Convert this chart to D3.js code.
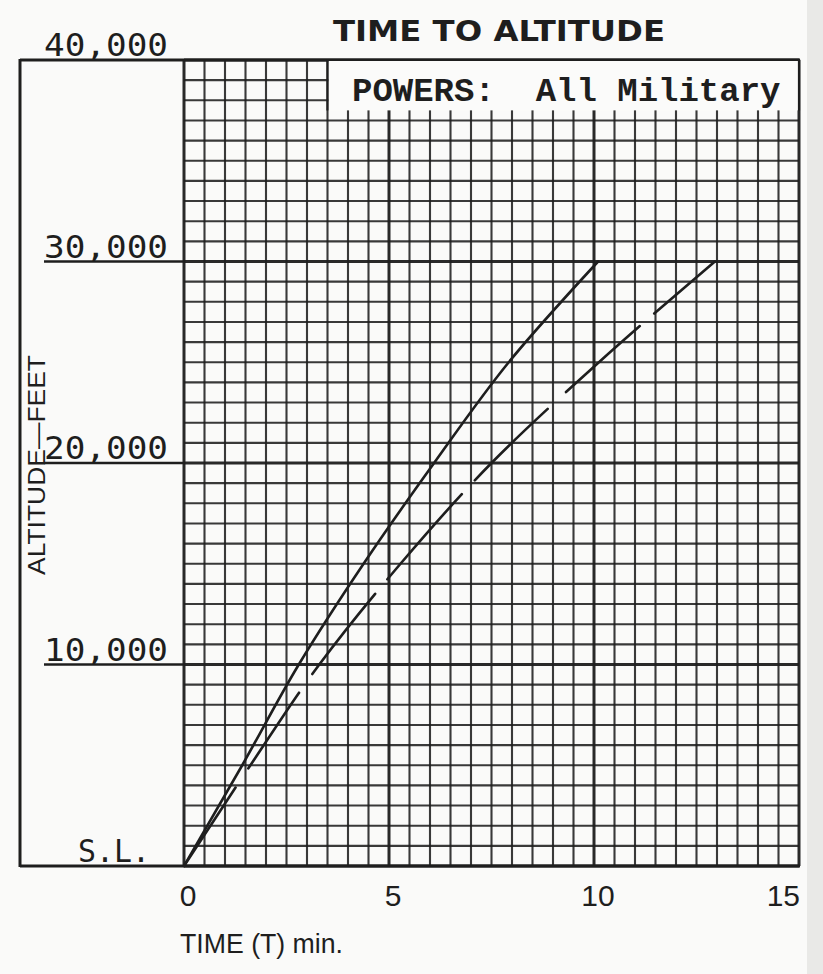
<!DOCTYPE html>
<html>
<head>
<meta charset="utf-8">
<script src="https://cdn.jsdelivr.net/npm/d3@7"></script>
<style>
  html, body { margin: 0; padding: 0; background: #fafaf9; }
  svg { display: block; }
</style>
</head>
<body>
<script>
// Time-to-altitude chart, military power, two configurations.
const altitudes   = [0, 5000, 10000, 15000, 20000, 25000, 30000];
const solidTimes  = [0, 1.42, 2.8, 4.38, 6.1, 7.92, 10.1];
const dashedTimes = [0, 1.62, 3.3, 5.28, 7.5, 10.12, 12.95];

const xTicks = [0, 5, 10, 15];
const xTickLabels = ["0", "5", "10", "15"];
const yTicks = [0, 10000, 20000, 30000, 40000];
const yTickLabels = ["S.L.", "10,000", "20,000", "30,000", "40,000"];

const titleText = "TIME TO ALTITUDE";
const boxText = "POWERS:  All Military";
const xTitle = "TIME (T) min.";
const yTitle = "ALTITUDE\u2014FEET";

const W = 823, H = 974;
const ink = "#1e1e1e";

const svg = d3.select("body").append("svg")
  .attr("width", W).attr("height", H);

svg.append("rect").attr("width", W).attr("height", H).attr("fill", "#fafaf9");
svg.append("rect").attr("x", 807).attr("y", 0).attr("width", W - 807).attr("height", H)
  .attr("fill", "#e9e9e7");

const x = d3.scaleLinear().domain([0, 15]).range([184, 799]);
const y = d3.scaleLinear().domain([0, 40000]).range([866, 60]);

// Grid: half-minute columns and 1000 ft rows, heavier every 5 min / 10,000 ft
const grid = svg.append("g");
const vLines = d3.range(0, 15.001, 0.5);
const hLines = d3.range(0, 40001, 1000);

grid.selectAll("line.v").data(vLines).join("line")
  .attr("x1", d => x(d)).attr("x2", d => x(d))
  .attr("y1", y(0)).attr("y2", y(40000))
  .attr("stroke", ink)
  .attr("stroke-opacity", d => d % 5 === 0 ? 0.95 : 0.88)
  .attr("stroke-width", d => d % 5 === 0 ? 3 : 2.1);

grid.selectAll("line.h").data(hLines).join("line")
  .attr("x1", x(0)).attr("x2", x(15))
  .attr("y1", d => y(d)).attr("y2", d => y(d))
  .attr("stroke", ink)
  .attr("stroke-opacity", d => d % 10000 === 0 ? 0.95 : 0.88)
  .attr("stroke-width", d => d % 10000 === 0 ? 3 : 2.1);

// Outer frame: left rule, full-width top and bottom rules, label underlines
svg.append("line")
  .attr("x1", 20).attr("x2", 20).attr("y1", y(40000) - 1).attr("y2", y(0) + 1)
  .attr("stroke", ink).attr("stroke-width", 3);
[0, 40000].forEach(v => {
  svg.append("line")
    .attr("x1", 20).attr("x2", x(15) + 1).attr("y1", y(v)).attr("y2", y(v))
    .attr("stroke", ink).attr("stroke-width", 3);
});
yTicks.filter(v => v > 0 && v < 40000).forEach(v => {
  svg.append("line")
    .attr("x1", 44).attr("x2", x(0)).attr("y1", y(v)).attr("y2", y(v))
    .attr("stroke", ink).attr("stroke-width", 2.6);
});

// Legend box in the top-right cells
const boxPath = d3.path();
boxPath.moveTo(x(3.5), y(37500));
boxPath.lineTo(x(3.5), y(40000));
boxPath.lineTo(x(15), y(40000));
boxPath.lineTo(x(15), y(37500));
svg.append("rect")
  .attr("x", x(3.5) + 1).attr("y", y(40000) + 1)
  .attr("width", x(15) - x(3.5) - 2).attr("height", y(37500) - y(40000) - 1)
  .attr("fill", "#fbfbfa");
svg.append("path").attr("d", boxPath.toString())
  .attr("fill", "none").attr("stroke", ink).attr("stroke-width", 2.2);
svg.append("text")
  .attr("x", 352).attr("y", 101)
  .attr("font-family", "'Liberation Mono', 'DejaVu Sans Mono', monospace")
  .attr("font-weight", "bold")
  .attr("font-size", 34).attr("fill", ink)
  .attr("xml:space", "preserve")
  .style("white-space", "pre")
  .text(boxText);

// Climb curves
const line = d3.line().curve(d3.curveMonotoneY);
const solidPts = altitudes.map((a, i) => [x(solidTimes[i]), y(a)]);
const dashedPts = altitudes.map((a, i) => [x(dashedTimes[i]), y(a)]);

svg.append("path").attr("d", line(solidPts))
  .attr("fill", "none").attr("stroke", ink).attr("stroke-width", 2.6)
  .attr("stroke-linecap", "round");
svg.append("path").attr("d", line(dashedPts))
  .attr("fill", "none").attr("stroke", ink).attr("stroke-width", 2.6)
  .attr("stroke-linecap", "round")
  .attr("stroke-dasharray", "94,23,91,23,102,19,113,19,102,25,99,19,80,40");

// Title
svg.append("text")
  .attr("x", 333).attr("y", 41)
  .attr("font-family", "'DejaVu Sans', sans-serif").attr("font-weight", "bold")
  .attr("font-size", 28).attr("fill", ink)
  .attr("textLength", 332).attr("lengthAdjust", "spacingAndGlyphs")
  .text(titleText);

// Altitude labels sitting on their rules
const yLab = svg.append("g")
  .attr("font-family", "'DejaVu Sans Mono', monospace")
  .attr("font-size", 32).attr("fill", ink);
yTicks.forEach((v, i) => {
  const lab = yTickLabels[i];
  yLab.append("text")
    .attr("x", lab === "S.L." ? 78 : 44)
    .attr("y", y(v) - 4)
    .attr("textLength", lab === "S.L." ? 72 : 124)
    .attr("lengthAdjust", "spacingAndGlyphs")
    .text(lab);
});

// Time labels
const xLab = svg.append("g")
  .attr("font-family", "'Liberation Sans', Arial, sans-serif")
  .attr("font-size", 30).attr("fill", ink);
xTicks.forEach((v, i) => {
  const last = i === xTicks.length - 1;
  xLab.append("text")
    .attr("x", last ? x(v) + 1 : x(v) + 4)
    .attr("y", 906)
    .attr("text-anchor", last ? "end" : "middle")
    .text(xTickLabels[i]);
});

// Axis titles
svg.append("text")
  .attr("x", 180).attr("y", 953)
  .attr("font-family", "'Liberation Sans', Arial, sans-serif")
  .attr("font-size", 27).attr("fill", ink)
  .attr("textLength", 163).attr("lengthAdjust", "spacingAndGlyphs")
  .text(xTitle);

svg.append("text")
  .attr("transform", "translate(45,465) rotate(-90)")
  .attr("text-anchor", "middle")
  .attr("font-family", "'Liberation Sans', Arial, sans-serif")
  .attr("font-size", 24).attr("fill", ink)
  .attr("textLength", 220).attr("lengthAdjust", "spacingAndGlyphs")
  .text(yTitle);
</script>
</body>
</html>
